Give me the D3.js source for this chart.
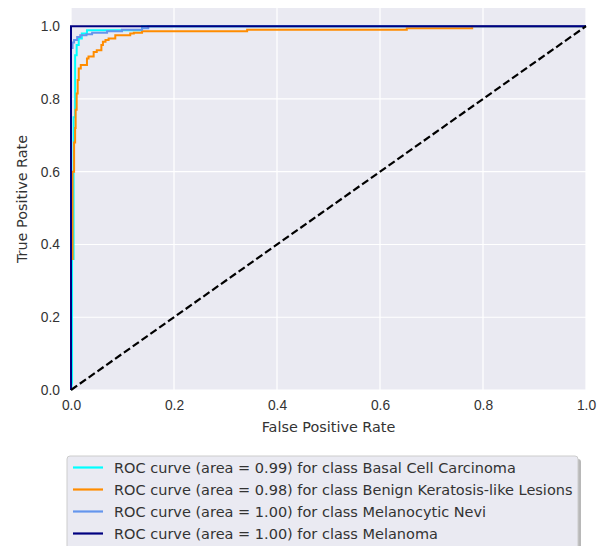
<!DOCTYPE html>
<html>
<head>
<meta charset="utf-8">
<script src="https://cdn.jsdelivr.net/npm/d3@7"></script>
<style>
  body { margin: 0; background: #fff; }
  svg { font-family: "DejaVu Sans", sans-serif; }
  .tick text { fill: #333; font-size: 13.8px; }
</style>
</head>
<body>
<div id="chart"></div>
<script>
// ROC points: [fpr, tpr]
const basalCell = [[0, 0], [0.002, 0.02], [0.002, 0.36], [0.005, 0.36], [0.005, 0.75],
  [0.008, 0.75], [0.008, 0.92], [0.011, 0.92], [0.011, 0.948], [0.015, 0.948], [0.015, 0.966],
  [0.021, 0.966], [0.021, 0.98], [0.031, 0.98], [0.031, 0.989], [0.138, 0.989], [0.138, 1], [1, 1]];
const benignKeratosis = [[0, 0], [0, 0.36], [0.003, 0.36], [0.003, 0.6], [0.006, 0.6],
  [0.006, 0.68], [0.008, 0.68], [0.008, 0.72], [0.009, 0.72], [0.009, 0.77], [0.011, 0.77],
  [0.011, 0.815], [0.013, 0.815], [0.013, 0.852], [0.015, 0.852], [0.015, 0.884], [0.019, 0.884],
  [0.019, 0.893], [0.031, 0.893], [0.031, 0.911], [0.034, 0.911], [0.034, 0.917], [0.044, 0.917],
  [0.044, 0.929], [0.05, 0.929], [0.05, 0.934], [0.059, 0.934], [0.059, 0.948], [0.062, 0.948],
  [0.062, 0.957], [0.067, 0.957], [0.067, 0.962], [0.073, 0.962], [0.073, 0.966], [0.086, 0.966],
  [0.086, 0.975], [0.115, 0.975], [0.115, 0.98], [0.122, 0.98], [0.122, 0.982], [0.138, 0.982],
  [0.138, 0.986], [0.342, 0.986], [0.342, 0.99], [0.652, 0.99], [0.652, 0.994], [0.779, 0.994],
  [0.779, 1], [1, 1]];
const melanocyticNevi = [[0, 0], [0, 0.94], [0.003, 0.94], [0.003, 0.955], [0.006, 0.955],
  [0.006, 0.962], [0.012, 0.962], [0.012, 0.97], [0.018, 0.97], [0.018, 0.975], [0.03, 0.975],
  [0.03, 0.978], [0.041, 0.978], [0.041, 0.982], [0.07, 0.982], [0.07, 0.986], [0.099, 0.986],
  [0.099, 0.99], [0.138, 0.99], [0.138, 0.994], [0.15, 0.994], [0.15, 1], [1, 1]];
const melanoma = [[0, 0], [0, 1], [1, 1]];

const classNames = ["Basal Cell Carcinoma", "Benign Keratosis-like Lesions", "Melanocytic Nevi", "Melanoma"];
const areas = [0.99, 0.98, 1.0, 1.0];
const colors = ["aqua", "darkorange", "cornflowerblue", "navy"];
const curves = [basalCell, benignKeratosis, melanocyticNevi, melanoma];
const ticks = [0, 0.2, 0.4, 0.6, 0.8, 1.0];

const width = 597;
const height = 546;
const margin = { top: 8, right: 11, bottom: 156, left: 71 };

const x = d3.scaleLinear().domain([0, 1]).range([margin.left, width - margin.right]);
const y = d3.scaleLinear().domain([0, 1.05]).range([height - margin.bottom, margin.top]);

const svg = d3.select("#chart").append("svg")
  .attr("width", width)
  .attr("height", height);

svg.append("rect")
  .attr("x", x(0)).attr("y", y(1.05))
  .attr("width", x(1) - x(0)).attr("height", y(0) - y(1.05))
  .attr("fill", "#eaeaf2");

// grid
svg.append("g").selectAll("line").data(ticks).join("line")
  .attr("x1", d => x(d)).attr("x2", d => x(d))
  .attr("y1", y(0)).attr("y2", y(1.05))
  .attr("stroke", "#fff").attr("stroke-width", 1.2);
svg.append("g").selectAll("line").data(ticks).join("line")
  .attr("y1", d => y(d)).attr("y2", d => y(d))
  .attr("x1", x(0)).attr("x2", x(1))
  .attr("stroke", "#fff").attr("stroke-width", 1.2);

const fmt = d3.format(".1f");
svg.append("g")
  .attr("transform", `translate(0,${y(0)})`)
  .call(d3.axisBottom(x).tickValues(ticks).tickFormat(fmt).tickSize(0).tickPadding(10))
  .call(g => g.select(".domain").remove());
svg.append("g")
  .attr("transform", `translate(${x(0)},0)`)
  .call(d3.axisLeft(y).tickValues(ticks).tickFormat(fmt).tickSize(0).tickPadding(11))
  .call(g => g.select(".domain").remove());

svg.append("text")
  .attr("x", (x(0) + x(1)) / 2).attr("y", 432)
  .attr("text-anchor", "middle").attr("fill", "#333").attr("font-size", 14.4)
  .text("False Positive Rate");
svg.append("text")
  .attr("transform", `translate(27,${(y(0) + y(1.05)) / 2}) rotate(-90)`)
  .attr("text-anchor", "middle").attr("fill", "#333").attr("font-size", 14.4)
  .text("True Positive Rate");

const line = d3.line().x(d => x(d[0])).y(d => y(d[1]));

svg.append("g").selectAll("path").data(curves).join("path")
  .attr("d", line)
  .attr("fill", "none")
  .attr("stroke", (d, i) => colors[i])
  .attr("stroke-width", 2);

svg.append("path")
  .attr("d", line([[0, 0], [1, 1]]))
  .attr("fill", "none")
  .attr("stroke", "#000")
  .attr("stroke-width", 2.2)
  .attr("stroke-dasharray", "7.5,3.3");

// legend
const legend = svg.append("g").attr("transform", "translate(67,456)");
legend.append("rect")
  .attr("x", 3).attr("y", 3).attr("width", 511).attr("height", 100)
  .attr("rx", 3).attr("fill", "#888").attr("opacity", 0.6);
legend.append("rect")
  .attr("width", 511).attr("height", 100)
  .attr("rx", 3).attr("fill", "#eaeaf2").attr("stroke", "#ccc");
const items = legend.selectAll("g.item").data(classNames).join("g")
  .attr("class", "item")
  .attr("transform", (d, i) => `translate(0,${11.5 + i * 22})`);
items.append("line")
  .attr("x1", 6).attr("x2", 36)
  .attr("stroke", (d, i) => colors[i]).attr("stroke-width", 2.2);
items.append("text")
  .attr("x", 47).attr("dy", "0.35em")
  .attr("fill", "#333").attr("font-size", 14.5)
  .text((d, i) => `ROC curve (area = ${areas[i].toFixed(2)}) for class ${d}`);
</script>
</body>
</html>
